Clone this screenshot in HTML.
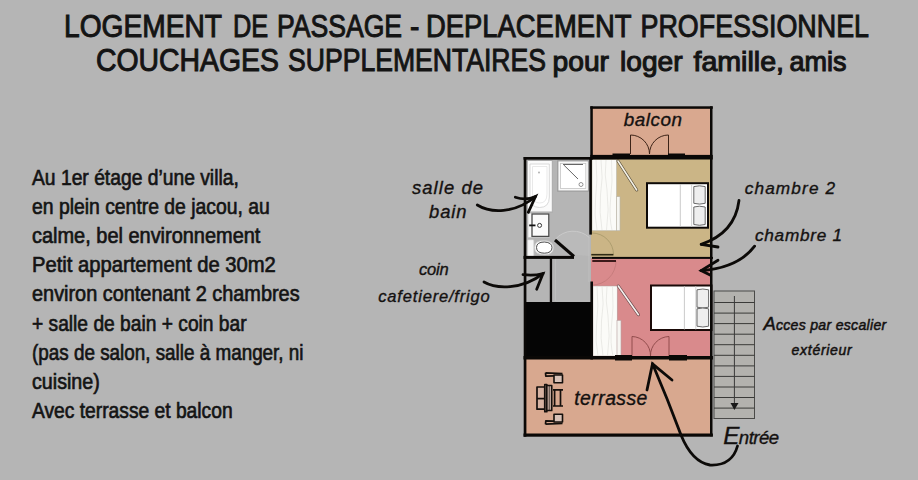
<!DOCTYPE html>
<html><head><meta charset="utf-8">
<style>
html,body{margin:0;padding:0;}
body{width:918px;height:480px;background:#b5b5b5;position:relative;overflow:hidden;font-family:"Liberation Sans",sans-serif;color:#141414;}
svg{position:absolute;left:0;top:0;}
</style></head><body>
<svg width="918" height="480" viewBox="0 0 918 480">
<g font-family="Liberation Sans" fill="#141414" stroke="#141414">
<text x="64.0" y="37.3" font-size="32" stroke-width="1.0" textLength="158.0" lengthAdjust="spacingAndGlyphs">LOGEMENT</text>
<text x="233.0" y="37.3" font-size="32" stroke-width="1.0" textLength="35.2" lengthAdjust="spacingAndGlyphs">DE</text>
<text x="277.0" y="37.3" font-size="32" stroke-width="1.0" textLength="125.1" lengthAdjust="spacingAndGlyphs">PASSAGE</text>
<text x="410.0" y="37.3" font-size="32" stroke-width="1.0" textLength="9.4" lengthAdjust="spacingAndGlyphs">-</text>
<text x="426.0" y="37.3" font-size="32" stroke-width="1.0" textLength="205.5" lengthAdjust="spacingAndGlyphs">DEPLACEMENT</text>
<text x="640.5" y="37.3" font-size="32" stroke-width="1.0" textLength="228.5" lengthAdjust="spacingAndGlyphs">PROFESSIONNEL</text>
<text x="96.0" y="71.4" font-size="31.5" stroke-width="1.0" textLength="183.0" lengthAdjust="spacingAndGlyphs">COUCHAGES</text>
<text x="288.0" y="71.4" font-size="31.5" stroke-width="1.0" textLength="258.0" lengthAdjust="spacingAndGlyphs">SUPPLEMENTAIRES</text>
<text x="552.5" y="71.4" font-size="28" stroke-width="1.1" textLength="56.5" lengthAdjust="spacingAndGlyphs">pour</text>
<text x="620.0" y="71.4" font-size="28" stroke-width="1.1" textLength="62.5" lengthAdjust="spacingAndGlyphs">loger</text>
<text x="693.5" y="71.4" font-size="28" stroke-width="1.1" textLength="90.5" lengthAdjust="spacingAndGlyphs">famille,</text>
<text x="789.5" y="71.4" font-size="28" stroke-width="1.1" textLength="57.0" lengthAdjust="spacingAndGlyphs">amis</text>
</g>
<g font-family="Liberation Sans" font-size="21.3" fill="#141414" stroke="#141414" stroke-width="0.65">
<text x="32" y="184.7" textLength="206.8" lengthAdjust="spacingAndGlyphs">Au 1er étage d’une villa,</text>
<text x="32" y="213.9" textLength="237.8" lengthAdjust="spacingAndGlyphs">en plein centre de jacou, au</text>
<text x="32" y="243.1" textLength="228.4" lengthAdjust="spacingAndGlyphs">calme, bel environnement</text>
<text x="32" y="272.2" textLength="243.8" lengthAdjust="spacingAndGlyphs">Petit appartement de 30m2</text>
<text x="32" y="301.4" textLength="267.6" lengthAdjust="spacingAndGlyphs">environ contenant 2 chambres</text>
<text x="32" y="330.6" textLength="214.6" lengthAdjust="spacingAndGlyphs">+ salle de bain + coin bar</text>
<text x="32" y="359.8" textLength="271.5" lengthAdjust="spacingAndGlyphs">(pas de salon, salle à manger, ni</text>
<text x="32" y="389.0" textLength="67.8" lengthAdjust="spacingAndGlyphs">cuisine)</text>
<text x="32" y="418.1" textLength="200.6" lengthAdjust="spacingAndGlyphs">Avec terrasse et balcon</text>
</g>
<!-- room fills -->
<rect x="592" y="108" width="119" height="48" fill="#d9a88f"/>
<rect x="591" y="159" width="120" height="98" fill="#cbb586"/>
<rect x="591" y="258" width="120" height="99" fill="#d98a8c"/>
<rect x="525" y="358" width="186" height="77" fill="#d8a88f"/>
<rect x="524" y="302" width="69" height="57" fill="#050505"/>
<!-- stairs -->
<rect x="714" y="291" width="40.5" height="127.5" fill="#b3b2ae" stroke="#4a4a48" stroke-width="1"/>
<g stroke="#3a3a38" stroke-width="1">
<line x1="714" y1="302.5" x2="754.5" y2="302.5"/>
<line x1="714" y1="313.1" x2="754.5" y2="313.1"/>
<line x1="714" y1="323.6" x2="754.5" y2="323.6"/>
<line x1="714" y1="334.2" x2="754.5" y2="334.2"/>
<line x1="714" y1="344.7" x2="754.5" y2="344.7"/>
<line x1="714" y1="355.3" x2="754.5" y2="355.3"/>
<line x1="714" y1="365.9" x2="754.5" y2="365.9"/>
<line x1="714" y1="376.4" x2="754.5" y2="376.4"/>
<line x1="714" y1="387.0" x2="754.5" y2="387.0"/>
<line x1="714" y1="397.5" x2="754.5" y2="397.5"/>
<line x1="714" y1="408.1" x2="754.5" y2="408.1"/>
<line x1="734.4" y1="296" x2="734.4" y2="405"/>
</g>
<path d="M730.5 403 L738.5 403 L734.4 410 Z" fill="#1a1a1a"/>

<!-- closets -->
<rect x="592" y="159.5" width="24.7" height="71.3" fill="#fbfbf8" stroke="#a8a290" stroke-width="0.5"/>
<g fill="none" stroke="#e2e2de" stroke-width="0.7">
<path d="M596 160 Q598 180 595.5 200 Q594 215 597 230"/>
<path d="M601 160 Q603.5 178 600.5 195 Q599 212 602 230"/>
<path d="M606 160 Q604 175 607 190 Q609.5 210 606.5 230"/>
<path d="M611.5 160 Q613 182 610.5 200 Q609 218 612 230"/>
</g>
<rect x="616.5" y="196.7" width="3.5" height="34" fill="#f6f6f2" stroke="#b8b4a8" stroke-width="0.6"/>
<rect x="593" y="286" width="24.2" height="70" fill="#fbfbf8" stroke="#b09a98" stroke-width="0.5"/>
<g fill="none" stroke="#e2e2de" stroke-width="0.7">
<path d="M597 286 Q599 306 596.5 326 Q595 341 598 356"/>
<path d="M602 286 Q604.5 304 601.5 321 Q600 338 603 356"/>
<path d="M607 286 Q605 301 608 316 Q610.5 336 607.5 356"/>
<path d="M612.5 286 Q614 308 611.5 326 Q610 344 613 356"/>
</g>
<rect x="617" y="320.3" width="4" height="35.6" fill="#f6f6f2" stroke="#b8a0a0" stroke-width="0.6"/>
<line x1="618" y1="161" x2="636.7" y2="190" stroke="#5a4f3a" stroke-width="3" stroke-linecap="round"/>
<line x1="618" y1="161" x2="636.7" y2="190" stroke="#f4f1e6" stroke-width="1.6" stroke-linecap="round"/>
<line x1="618.3" y1="286" x2="638.4" y2="314.7" stroke="#6a4a4a" stroke-width="3" stroke-linecap="round"/>
<line x1="618.3" y1="286" x2="638.4" y2="314.7" stroke="#f6f0f0" stroke-width="1.6" stroke-linecap="round"/>

<!-- beds -->
<rect x="647" y="183.2" width="61" height="44.5" fill="#fff" stroke="#0e0a08" stroke-width="2"/>
<line x1="680.3" y1="184" x2="680.3" y2="227" stroke="#bdbdbd" stroke-width="0.8"/>
<line x1="691.6" y1="184" x2="691.6" y2="227" stroke="#c8c8c8" stroke-width="0.8"/>
<path d="M693.8 186.6 Q699.5 185.0 705.2 186.6 L705.2 203.3 Q699.5 204.9 693.8 203.3 Z" fill="#eeeeee" stroke="#5a5a5a" stroke-width="0.9"/>
<path d="M693.8 207.0 Q699.5 205.4 705.2 207.0 L705.2 224.5 Q699.5 226.1 693.8 224.5 Z" fill="#eeeeee" stroke="#5a5a5a" stroke-width="0.9"/>
<rect x="651" y="285.5" width="60.5" height="44.5" fill="#fff" stroke="#1a0a08" stroke-width="2"/>
<line x1="684.4" y1="286" x2="684.4" y2="329.5" stroke="#bdbdbd" stroke-width="0.8"/>
<line x1="695.8" y1="286" x2="695.8" y2="329.5" stroke="#c8c8c8" stroke-width="0.8"/>
<path d="M697.0 289.8 Q702.8 288.2 708.6 289.8 L708.6 307.2 Q702.8 308.8 697.0 307.2 Z" fill="#eeeeee" stroke="#5a5a5a" stroke-width="0.9"/>
<path d="M697.0 308.8 Q702.8 307.2 708.6 308.8 L708.6 326.2 Q702.8 327.8 697.0 326.2 Z" fill="#eeeeee" stroke="#5a5a5a" stroke-width="0.9"/>

<!-- bathroom fixtures -->
<rect x="527.3" y="160.5" width="25" height="51.5" fill="#fafafa" stroke="#a9a9a9" stroke-width="1"/>
<path d="M530 164 L549.3 164 L549.3 197 Q549.3 207.5 539.6 207.5 Q530 207.5 530 197 Z" fill="#fff" stroke="#d0d0d0" stroke-width="0.8"/>
<path d="M532.5 166.5 L547 166.5 L547 194 Q547 203 539.6 203 Q532.5 203 532.5 194 Z" fill="#fff" stroke="#e0e0e0" stroke-width="0.7"/>
<circle cx="539" cy="172.5" r="0.9" fill="#aaa"/>
<rect x="557.8" y="160.8" width="30.7" height="30.3" fill="#f8f8f8" stroke="#9a9a9a" stroke-width="1.2"/>
<rect x="560.5" y="163.5" width="25.3" height="24.9" fill="#fff" stroke="#c4c4c4" stroke-width="0.8"/>
<line x1="563.6" y1="164.8" x2="578" y2="179" stroke="#555" stroke-width="0.9"/>
<line x1="563" y1="164.5" x2="583" y2="164.5" stroke="#666" stroke-width="1"/>
<circle cx="581" cy="184.5" r="2" fill="none" stroke="#777" stroke-width="0.8"/>
<rect x="528" y="213.1" width="21.5" height="24.5" fill="#f8f8f8" stroke="#bdbdbd" stroke-width="0.6"/>
<rect x="532" y="214" width="16.8" height="22.4" fill="#fafafa" stroke="#4a4a4a" stroke-width="1.3"/>
<line x1="529.2" y1="225.4" x2="535.5" y2="225.4" stroke="#111" stroke-width="1.8"/>
<circle cx="539.6" cy="225.4" r="2" fill="#fff" stroke="#333" stroke-width="1"/>
<rect x="527.6" y="239.7" width="6.3" height="16.7" rx="1" fill="#f6f6f6" stroke="#c4c4c4" stroke-width="0.7"/>
<path d="M534.5 247.5 Q534.5 240 545 240.5 Q553.5 241.5 553.5 247.5 Q553.5 254.5 545 254.8 Q534.5 255 534.5 247.5 Z" fill="#f8f8f8" stroke="#c8c8c8" stroke-width="0.8"/>
<path d="M536.5 247.5 Q536.5 242 544.5 242 Q552 242.5 552 247.5 Q552 253 544.5 253.2 Q536.5 253.2 536.5 247.5 Z" fill="#fff" stroke="#3a3a3a" stroke-width="0.9"/>

<!-- door arcs -->
<path d="M573.3 254.8 L555.4 239.2 A 23.7 23.7 0 0 1 589.5 237.5 L589.5 256 Z" fill="#bababa"/>
<path d="M555.4 239.2 A 23.7 23.7 0 0 1 589.3 237.5" fill="none" stroke="#cacaca" stroke-width="1"/>
<line x1="589" y1="237.5" x2="589" y2="282" stroke="#c2c2c2" stroke-width="0.8"/>
<path d="M555.5 259 L555.5 301 L589.5 301" fill="none" stroke="#c4c4c4" stroke-width="0.6"/>
<path d="M592 233 A 21.5 21.5 0 0 1 613.5 254.5" fill="none" stroke="#a99b6c" stroke-width="0.9"/>
<path d="M616 261 A 24 24 0 0 1 592 285" fill="none" stroke="#c47a7a" stroke-width="0.9"/>
<!-- balcony doors -->
<path d="M630.5 154 L630.5 135 A 19 19 0 0 1 649.5 154 A 19 19 0 0 1 668.5 135 L668.5 154" fill="none" stroke="#3d2418" stroke-width="1"/>
<!-- chambre1 to terrasse doors -->
<path d="M632 356 L632 336.5 A 19 19 0 0 1 650.5 356 A 19 19 0 0 1 669 336.5 L669 356" fill="none" stroke="#8a4646" stroke-width="0.9"/>

<!-- walls -->
<g fill="#0a0806">
<rect x="523.7" y="157" width="2.7" height="279.7"/>
<rect x="523.5" y="157" width="69" height="2.7"/>
<rect x="590.3" y="106.3" width="122.5" height="2.5"/>
<rect x="590.3" y="106.3" width="2.5" height="53.2"/>
<rect x="710" y="106.3" width="2.5" height="330"/>
<rect x="590.3" y="154.9" width="122.5" height="4.6"/>
<rect x="612.5" y="153.5" width="17.5" height="5.5"/>
<rect x="668" y="153.5" width="17" height="5.5"/>
<rect x="589.3" y="157" width="2.6" height="77.6"/>
<rect x="590.4" y="281.5" width="2.6" height="78"/>
<rect x="592" y="256.9" width="121" height="2"/>
<rect x="549.8" y="257" width="2.3" height="45"/>
<rect x="523.5" y="255.9" width="50.5" height="3"/>
<rect x="523.5" y="356" width="189.4" height="3.5"/>
<rect x="615" y="355" width="17" height="5.5"/>
<rect x="669" y="355" width="18" height="5.5"/>
<rect x="523.5" y="433.5" width="189.4" height="3.2"/>
</g>
<line x1="555" y1="240" x2="574" y2="256.5" stroke="#0a0806" stroke-width="3"/>
<rect x="591.3" y="253.9" width="22.1" height="1.6" fill="#2e2a14"/>
<rect x="592.3" y="260.1" width="23.7" height="1.8" fill="#2a0e0e"/>

<!-- terrace furniture -->
<g fill="none" stroke="#140f0c" stroke-width="1.7" stroke-linejoin="round">
<rect x="537" y="387" width="7.8" height="22.2" fill="#d6b2a2"/>
<line x1="537" y1="398.6" x2="544.8" y2="398.6"/>
<rect x="544.8" y="384.5" width="2" height="27.2" fill="#d6b2a2"/>
<rect x="546.8" y="385.5" width="4.9" height="25" fill="#dcc0b4"/>
<line x1="549.2" y1="386" x2="549.2" y2="410" stroke-width="0.8"/>
<path d="M553 389.9 L563 389.9 M553 406 L563 406 M554.6 389.9 L554.6 406 M560.5 390.5 L560.5 405.5"/>
<path d="M554 375 L562.5 375 L562.5 382.8 L554 382.8 Z" fill="#d8c2b8" stroke-width="1.6"/>
<path d="M545.5 372.8 L562.5 373.6 M545.5 372.8 L545.8 376.2 L554 375.8"/>
<path d="M554 414.2 L562.5 414.2 L562.5 422 L554 422 Z" fill="#d8c2b8" stroke-width="1.6"/>
<path d="M545.5 424.2 L562.5 423.4 M545.5 424.2 L545.8 420.8 L554 421.2"/>
</g>

<!-- arrows -->
<g fill="none" stroke="#0c0a08" stroke-width="2.8" stroke-linecap="round">
<path d="M477.3 205 C490 213 515 214 535.5 196.5"/>
<path d="M515.3 197.2 Q526 201 535.5 196.5 L528.3 212.3"/>
<path d="M484 282 C496 289 522 290 543 273.6"/>
<path d="M523 274.7 Q534 276 543 273.6 L536.7 289.2"/>
<path d="M739 200.5 Q735 233 701.2 244.3"/>
<path d="M701.2 244.3 L718 247"/>
<path d="M754.6 246.2 Q738 268 701.2 270.6"/>
<path d="M718 260.2 L701.2 270.6 L710.6 275.2"/>
<path d="M737.5 446 Q732 466 710 465 Q692 462 681 435 Q668 400 652.5 363.8"/>
<path d="M647 390 L652.5 363.8 L672 380"/>
</g>

<!-- script labels -->
<g font-family="Liberation Sans" font-style="italic" fill="#141110" stroke="#141110" stroke-width="0.35">
<text x="623.7" y="125.5" font-size="18.9" textLength="58.3" lengthAdjust="spacing">balcon</text>
<text x="412" y="194.1" font-size="18.4" textLength="71" lengthAdjust="spacing">salle de</text>
<text x="429" y="218.1" font-size="18.4" textLength="37.6" lengthAdjust="spacing">bain</text>
<text x="419" y="275.2" font-size="16.5" textLength="29.7" lengthAdjust="spacing">coin</text>
<text x="378.3" y="302.1" font-size="16.5" textLength="111.4" lengthAdjust="spacing">cafetiere/frigo</text>
<text x="744.7" y="194.3" font-size="17.2" textLength="90.4" lengthAdjust="spacing">chambre 2</text>
<text x="755" y="241.1" font-size="17.2" textLength="87" lengthAdjust="spacing">chambre 1</text>
<text x="763.4" y="330.1" font-size="14.1" stroke-width="0.5" textLength="122.8" lengthAdjust="spacing"><tspan font-size="18.4">A</tspan>cces par escalier</text>
<text x="791.6" y="355.1" font-size="14.1" stroke-width="0.5" textLength="60.2" lengthAdjust="spacing">extérieur</text>
<text x="574.3" y="405" font-size="19.4" textLength="73.1" lengthAdjust="spacing">terrasse</text>
<text x="723.3" y="444.3" font-size="18.6" textLength="55.7" lengthAdjust="spacing"><tspan font-size="24.2">E</tspan>ntrée</text>
</g>
</svg>
</body></html>
